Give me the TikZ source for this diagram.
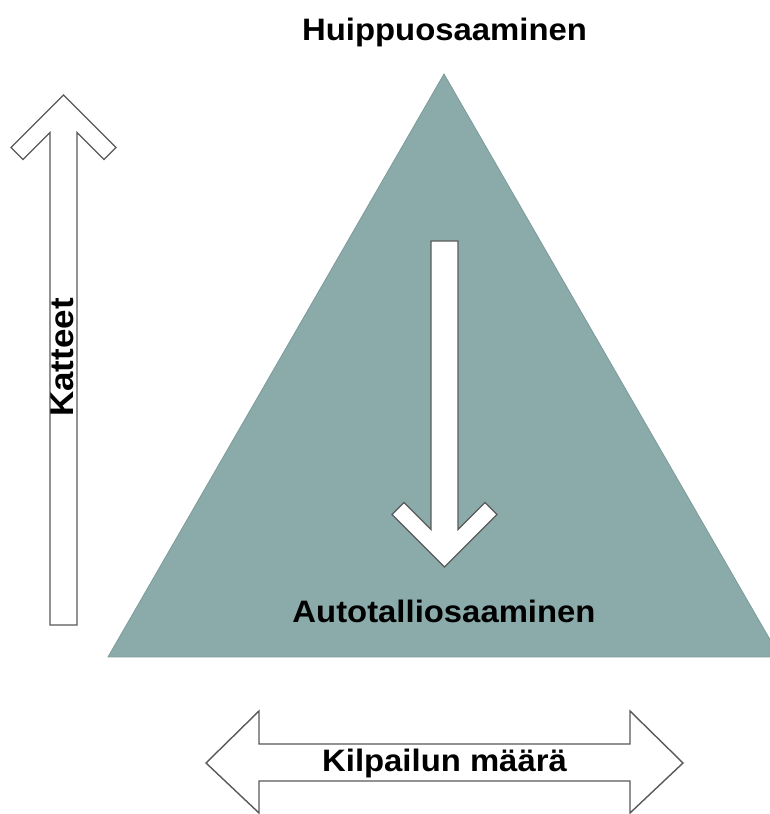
\documentclass[tikz,border=0pt]{standalone}
\usepackage{fontspec}
\newfontfamily\lblfont[FakeStretch=1.06]{Liberation Sans}
\begin{document}
\begin{tikzpicture}[x=1pt,y=1pt,
  lbl/.style={font=\lblfont\bfseries\fontsize{31}{37}\selectfont, inner sep=0pt, anchor=base, text=black},
  hollow/.style={draw=black!65, line width=1.4pt, fill=white, line join=miter},
  pyramid/.style={fill=tealgray, draw=tealgray!90!black, line width=0.8pt}]
\definecolor{tealgray}{HTML}{8BABAB}
\useasboundingbox (0,0) rectangle (770,814);
\clip (0,0) rectangle (770,814);
\fill[white] (0,0) rectangle (770,814);

% pyramid of know-how
\path[pyramid] (444,740) -- (108,157) -- (780,157) -- cycle;

% upward arrow on the left (y axis)
\path[hollow] (63.5,719) -- (116,666.5) -- (104,654.5) -- (77,681.5)
  -- (77,189) -- (50,189) -- (50,681.5) -- (23,654.5) -- (11,666.5) -- cycle;

% downward arrow inside the pyramid
\path[hollow] (444.5,247) -- (497,299.5) -- (485,311.5) -- (458,284.5)
  -- (458,573) -- (431,573) -- (431,284.5) -- (404,311.5) -- (392,299.5) -- cycle;

% horizontal double arrow at the bottom
\path[hollow] (206,51) -- (259,103) -- (259,70) -- (630,70) -- (630,103)
  -- (683,51) -- (630,1) -- (630,33) -- (259,33) -- (259,1) -- cycle;

% labels
\node[lbl] (top) at (444.5,773) {Huippuosaaminen};
\node[lbl] (base) at (444,191) {Autotalliosaaminen};
\node[lbl] (comp) at (444.5,42) {Kilpailun määrä};
\node[lbl, rotate=90, font=\lblfont\bfseries\fontsize{33}{39}\selectfont] (marg) at (73,456.5) {Katteet};
\end{tikzpicture}
\end{document}
